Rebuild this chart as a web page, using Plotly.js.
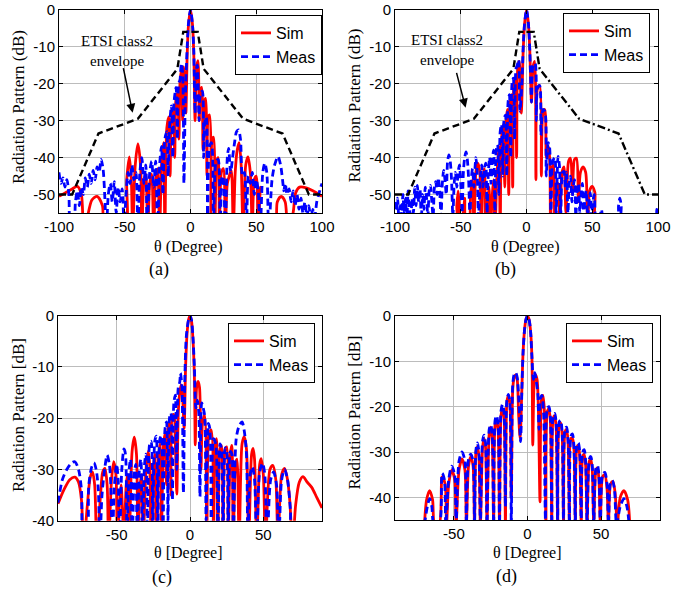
<!DOCTYPE html>
<html>
<head>
<meta charset="utf-8">
<script src="https://cdn.plot.ly/plotly-3.0.1.min.js"></script>
<style>html,body{margin:0;padding:0;background:#fff;}#chart{width:689px;height:589px;}</style>
</head>
<body>
<div id="chart"></div>
<script>
// ---------------- data (theta in degrees, pattern in dB) ----------------
const envTheta = [-100, -90, -70, -40, -10, -5.5, 0, 5.5, 10, 40, 70, 90, 100];
const envDB    = [-50, -50, -33.5, -29.5, -16, -6, -6, -6, -16, -29.5, -33.5, -50, -50];

const simA = [[-100,-50.5],[-95,-49.5],[-90,-48.5],[-86,-47.8],[-83,-50],[-81,-60],[-75,-51.5],[-71,-50.5],[-67,-53],[-65,-60],[-50,-60],[-48.5,-46],[-46.5,-39.8],[-45,-46],[-44,-60],[-42,-42],[-40,-36.3],[-38,-42],[-37,-60],[-35.5,-47],[-34,-44.5],[-32.5,-60],[-31,-47],[-29.5,-44.5],[-28,-60],[-26.5,-46],[-25,-43],[-23.5,-60],[-22,-42],[-20.5,-36],[-19.5,-60],[-18,-32],[-16.5,-29],[-15.5,-45],[-14.5,-30],[-13,-27.5],[-12,-40],[-11,-24],[-9.8,-22.5],[-8.8,-35],[-8,-20],[-6.8,-16],[-6,-30],[-5,-15.5],[-4,-22],[-3.5,-28],[-2.5,-12],[-1.5,-4],[0,0],[1.5,-4],[2.5,-12],[3.5,-30],[4.5,-16],[5.7,-13.8],[6.7,-30],[7.5,-22],[8.5,-21],[9.5,-38],[10.5,-25],[11.5,-24],[12.5,-45],[13.5,-29],[14.5,-28.5],[15.5,-60],[16.5,-35],[17.5,-34.5],[18.5,-60],[20,-41],[21,-40],[22,-60],[23.5,-44],[25,-43],[26.5,-60],[28,-47],[29.5,-45],[31,-43.5],[32.5,-60],[34,-44],[35.5,-38],[37,-36],[38.5,-42],[40,-60],[42,-42],[43.7,-39.8],[45.5,-44],[47,-60],[48.5,-46],[50,-45],[51.5,-60],[53,-48],[54,-60],[64,-60],[66,-52],[69,-50.5],[72,-52],[74,-60],[78,-55],[80,-49.5],[83,-48],[88,-48.2],[93,-49],[100,-50.5]];

const measA = [[-100,-44],[-98.5,-47],[-97,-45.5],[-95.5,-48],[-94,-46],[-92.5,-50],[-91,-60],[-89,-60],[-87.5,-52],[-86,-49],[-84.5,-53],[-83,-48],[-81.5,-50],[-80,-45.5],[-78.5,-48],[-77,-44.5],[-75.5,-47],[-74,-43.5],[-72.5,-46],[-71,-42.5],[-69.5,-44],[-68,-40.5],[-66.5,-43],[-65,-52],[-64,-60],[-62.5,-50],[-61,-47],[-59.5,-52],[-58,-46.5],[-56.5,-55],[-55,-48],[-53.5,-52],[-52,-48.5],[-50.5,-58],[-49,-50],[-47.5,-44],[-46,-47],[-44.5,-42],[-43,-46],[-41.5,-44],[-40,-60],[-38.5,-44],[-37,-40],[-35.5,-47],[-34,-42],[-33,-60],[-31,-44],[-29.5,-41],[-28,-48],[-26.5,-41],[-25,-60],[-23.5,-42],[-22,-37],[-21,-50],[-19.5,-35],[-18,-33],[-17,-45],[-16,-32],[-14.5,-26],[-13.5,-40],[-12.5,-25],[-11,-21],[-10,-35],[-9,-20],[-8,-19],[-7,-14.5],[-6,-17],[-5,-47],[-4,-25],[-2.5,-10],[-1.5,-3.5],[0,0],[1.5,-4],[2.5,-11],[3.5,-28],[4.5,-16],[5.2,-15],[6.5,-30],[7.5,-23],[9,-22],[10,-40],[11,-30],[12,-29],[13,-60],[14.5,-37],[16,-36],[17.5,-60],[19.5,-41],[21,-40.5],[22.5,-60],[24,-45],[25,-46],[26.5,-60],[28,-40],[29,-37.5],[30.5,-44],[32,-40],[33.5,-36],[35,-33],[36.5,-32.5],[38,-35],[39.5,-45],[41,-44],[42.5,-60],[44,-45],[45.5,-47],[47,-44],[48.5,-50],[50,-46],[51.5,-49],[53,-60],[55,-44],[56.5,-41.5],[58,-44],[59.5,-60],[62,-46],[64,-42],[66.5,-39.7],[68.5,-42],[70,-46],[71,-49],[72,-47],[73.5,-50],[75,-48.5],[76.5,-52],[78,-49],[79.5,-53],[81,-50],[82.5,-54],[84,-51],[85.5,-55],[87,-52],[88.5,-56],[90,-53],[91.5,-57],[93,-54],[94.5,-56],[96,-52],[97.5,-50],[99,-48],[100,-47]];

const simB = [[-100,-60],[-54,-60],[-53,-53],[-52,-49],[-51,-53],[-50,-60],[-48,-55],[-47,-51],[-46,-60],[-44,-60],[-42.5,-50],[-41,-46],[-40,-60],[-38.5,-44],[-37,-41.5],[-35.5,-44],[-34.5,-60],[-33,-45],[-32,-43],[-31,-60],[-29.5,-52],[-28.5,-48],[-27.5,-60],[-26,-50],[-25,-46],[-24,-60],[-22.5,-45],[-21,-37],[-20,-60],[-19,-35],[-17.5,-31],[-16.5,-48],[-15.5,-30],[-14.5,-27],[-13.5,-50],[-12.5,-25],[-11.5,-23],[-10.5,-48],[-9.5,-20],[-8.5,-18.5],[-7.5,-40],[-6.5,-15],[-5.5,-14],[-4,-28],[-2.5,-11],[-1.5,-4],[0,0],[1.5,-4],[2.5,-11],[3.8,-25],[5,-15.5],[6.2,-14],[7.2,-46],[8.5,-21],[10,-20.5],[11.3,-45],[12.5,-28],[14,-27],[15,-40],[16,-37],[17,-37.5],[18.3,-60],[19.5,-43],[20.5,-42],[21.5,-60],[23,-48],[24,-47],[25.5,-60],[27,-44],[28.5,-42.5],[30,-55],[32,-41],[33.5,-40.2],[35,-50],[36.5,-40.5],[38,-40.2],[39.5,-52],[41,-44],[43,-42.5],[45,-44],[46.5,-60],[48,-49],[50,-47.8],[52,-49.5],[54,-60],[100,-60]];

const measB = [[-100,-52],[-99,-56],[-98,-51],[-97,-57],[-96,-53],[-95,-56],[-94,-50],[-93,-55],[-92,-51],[-91,-57],[-90,-49],[-89,-54],[-88,-57],[-87,-51],[-86,-55],[-85,-48],[-84,-53],[-83,-47.5],[-82,-52],[-81,-48.5],[-80,-57],[-79,-50],[-78,-54],[-77,-48],[-76,-51],[-75,-56],[-74,-49],[-73,-47.5],[-72,-52],[-71,-56],[-70,-48],[-69,-46.5],[-68,-50],[-67,-45.5],[-66,-49],[-65,-56],[-64,-47],[-63,-43.5],[-62,-46],[-61,-50],[-60,-41],[-59,-39.3],[-58,-41],[-57,-46],[-56,-56],[-55,-47],[-54,-44],[-53,-48],[-52,-44],[-51,-42],[-50,-47],[-49,-55],[-48,-44],[-47,-40],[-46,-38.5],[-45,-40.5],[-44,-46],[-43,-56],[-42,-46],[-41,-43],[-40,-48],[-39,-42],[-38.5,-40],[-37.5,-44],[-36.5,-56],[-35,-45],[-34,-42],[-33,-48],[-32,-43],[-31,-41.5],[-30,-55],[-29,-44],[-28,-40],[-27,-47],[-26,-41],[-25,-38],[-24,-56],[-23,-38],[-22,-36.5],[-21,-50],[-20,-33],[-19,-31],[-18,-45],[-17,-29.5],[-16,-28.5],[-15,-45],[-14,-25],[-13,-23],[-12,-40],[-11,-20],[-10,-18.5],[-9,-35],[-8,-16],[-7,-15],[-6,-13.5],[-5,-27.5],[-3.5,-20],[-2.5,-10],[-1.5,-4],[0,0],[1.5,-4],[2.5,-11],[3.8,-25],[5,-15],[6.5,-14.5],[7.5,-30],[8.5,-21],[10,-20.5],[11,-34],[12.5,-27],[14,-27.5],[15,-45],[16.5,-36],[17.5,-37],[18.5,-56],[20,-41],[21.5,-40],[22.5,-56],[24,-39.7],[25,-42],[26,-56],[27.5,-44],[28.5,-43.8],[29.5,-48],[30.5,-44],[31.5,-55],[32.5,-47],[33.5,-45],[34.5,-52],[35.5,-48],[36.5,-46],[37.5,-56],[38.5,-49],[39.5,-47],[40.5,-55],[41.5,-50],[42.5,-47],[43.5,-56],[44.5,-51],[45.5,-49],[46.5,-56],[47.5,-52],[48.5,-49.5],[49.5,-56],[50.5,-52],[51.5,-50],[52.5,-57],[54,-60],[56,-56],[57,-54],[58,-57],[59,-60],[69,-60],[70,-53],[71,-51],[72,-53],[73,-60],[98,-60],[99,-54],[100,-55]];

const simC = [[-90,-36.7],[-86,-34],[-82,-32],[-78.5,-31.5],[-76,-32.5],[-74,-36],[-72.5,-45],[-70,-37],[-68,-31.5],[-66.5,-30.5],[-65,-33],[-63.5,-45],[-61,-35],[-59.5,-30.5],[-58,-29.8],[-56.5,-33],[-55.5,-45],[-53.5,-32],[-52,-28.5],[-50.5,-31],[-49.5,-45],[-48,-36],[-47,-33],[-46,-38],[-45,-45],[-43.5,-33],[-42.5,-31],[-41.5,-45],[-39.5,-26.5],[-38,-23.7],[-36.5,-27],[-35.5,-45],[-34,-33],[-33,-31],[-32,-45],[-30,-30],[-28.5,-26.5],[-27.5,-29],[-26.5,-45],[-25,-30],[-24,-27],[-23,-45],[-21.5,-28],[-20.5,-25],[-19.5,-42],[-18,-25],[-17,-23],[-16,-33],[-15,-22],[-14,-21],[-13,-35],[-12,-19.5],[-11,-19.3],[-10,-25],[-9,-34.8],[-8,-19],[-7,-15],[-6,-13.5],[-5,-16],[-4,-22],[-3,-10],[-2,-3.5],[-1,-0.8],[0,0],[1,-1],[2,-4.5],[3,-12],[3.6,-25.2],[4.5,-14],[5.5,-12.8],[6.5,-14],[7.5,-30],[8.5,-21],[10,-19.4],[11.5,-45],[13,-23],[14.5,-22.3],[16,-45],[17,-26],[18,-24],[19,-45],[20.5,-26],[21.5,-25.3],[22.5,-45],[24,-26],[25,-25.6],[26,-45],[27.5,-27],[28.5,-25.3],[29.5,-45],[31,-29],[32,-28],[33.5,-45],[35.5,-25],[37,-23.6],[38.5,-26],[40,-45],[42,-27],[43,-25.9],[44,-28],[45.5,-45],[47.5,-29],[48.5,-27.9],[50,-31],[51.5,-45],[54.5,-30],[56.5,-29.2],[58.5,-32],[60,-45],[62.5,-31],[64.5,-29.8],[66.5,-32],[68,-36],[70,-45],[72,-37],[74.5,-32.5],[77,-31.4],[80,-32.5],[83,-33.5],[86.5,-35.5],[90,-37.5]];

const measC = [[-90,-36.5],[-87,-32],[-84,-30],[-81,-28.8],[-78.5,-28.5],[-76,-30],[-74,-34],[-72.5,-45],[-70.5,-45],[-69,-33],[-67,-29.5],[-65.5,-28.7],[-64,-30],[-62.5,-34],[-61.5,-45],[-60,-35],[-58,-29.5],[-56.5,-27.2],[-55,-29],[-54,-33],[-53,-45],[-51.5,-33],[-50,-29],[-49,-32],[-48,-45],[-46.5,-30],[-45,-26],[-44,-27],[-43,-45],[-41.5,-30],[-40.5,-28],[-39.5,-45],[-38,-31],[-37,-29],[-36,-45],[-34.5,-30],[-33.5,-28],[-32.5,-45],[-31,-29],[-30,-27],[-29,-45],[-27.5,-25],[-26.5,-24.5],[-25.5,-45],[-24,-24.5],[-23,-23.5],[-22,-45],[-20.5,-24],[-19.5,-23.4],[-18.5,-45],[-17,-22],[-16,-20.7],[-15,-40],[-14,-20],[-13,-19],[-12,-36],[-11,-17],[-10,-15.5],[-9,-30],[-8,-14],[-7,-13],[-6.5,-11.2],[-5.5,-14],[-4.5,-34.6],[-3.5,-12],[-2.5,-4],[-1,-0.8],[0,0],[1,-0.8],[2,-4],[3,-10],[4,-18],[5,-16.5],[6,-19],[6.8,-35.3],[8,-17],[9,-18],[10,-19.5],[11,-40],[12.5,-21],[13.5,-22],[14.5,-45],[16,-24],[17.5,-25],[19,-45],[20.5,-25],[21.5,-26],[22.5,-45],[24,-25.8],[25,-26.5],[26,-45],[27.5,-26.5],[28.5,-27],[29.5,-45],[31.5,-24],[33.5,-21.5],[35.5,-20.7],[37,-22.5],[38.5,-27],[39.5,-45],[41,-31],[42.5,-29.5],[44,-32],[45.5,-45],[47.5,-30.5],[49.5,-28.8],[51,-31],[52.5,-45],[55,-32],[57,-30.5],[59,-33],[60.5,-45],[62.5,-32],[64.5,-30],[66.5,-32],[68.5,-38],[70,-45],[90,-45]];

const simD = [[-70,-46],[-68.5,-40.5],[-66.5,-38.5],[-64.5,-40.5],[-63,-46],[-60,-46],[-58,-35.5],[-56,-37],[-55,-46],[-53.5,-37],[-51.5,-34],[-49.5,-36],[-48.5,-46],[-46.5,-34],[-44.5,-31.5],[-42.5,-34],[-41.5,-46],[-40,-33],[-38.5,-31],[-37,-33],[-36,-46],[-35,-30],[-34,-28.8],[-33,-31],[-32,-46],[-30.5,-29],[-29.5,-27],[-28.5,-29],[-27.5,-46],[-26,-26],[-25,-24.5],[-24,-27],[-23,-46],[-22,-24],[-21,-23],[-20,-25],[-19,-46],[-18,-22],[-17,-20.5],[-16,-22],[-15,-46],[-14,-19],[-13,-17.5],[-12,-19],[-11,-40],[-10,-16],[-9,-13.5],[-8,-13],[-7,-14],[-6,-22],[-5,-27],[-4,-18],[-3,-8],[-2,-3],[-1,-0.7],[0,0],[1,-0.7],[2,-3],[3,-9],[3.6,-28.5],[4.5,-15],[5.5,-13],[6.5,-14],[7.5,-22],[8.5,-41],[9.5,-18.5],[10.5,-17.5],[11.5,-21],[12.5,-46],[13.5,-21],[14.5,-20.5],[15.5,-23],[16.5,-46],[17.5,-22.5],[18.5,-22],[19.5,-25],[20.5,-46],[21.5,-24],[22.5,-23.5],[23.5,-26],[24.5,-46],[25.5,-25.5],[26.5,-25],[27.5,-27.5],[28.5,-46],[29.5,-27],[30.5,-27],[31.5,-29],[32.5,-46],[33.5,-29],[34.5,-28.5],[35.5,-31],[36.5,-46],[37.5,-31],[38.5,-30.5],[39.5,-33],[40.5,-46],[42,-32],[43,-31.5],[44,-34],[45,-46],[46.5,-34],[47.5,-33.5],[48.5,-36],[49.5,-46],[51,-35.5],[52.5,-35],[54,-38],[55,-46],[56.5,-37],[58,-36.5],[59.5,-39],[61,-46],[63,-40],[65.5,-38.5],[68,-40.5],[69.5,-46]];

const measD = [[-70,-46],[-68,-42],[-66.5,-40.3],[-65,-42],[-63.5,-46],[-60,-46],[-58,-34.7],[-56.5,-36],[-55.5,-46],[-53.5,-36],[-51.5,-33.1],[-49.5,-35],[-48.5,-46],[-46.5,-32],[-44.5,-30],[-42.5,-32],[-41.5,-46],[-40,-31.5],[-38.5,-30.5],[-37,-32],[-36,-46],[-35,-29.5],[-34,-28],[-33,-30],[-32,-46],[-30.5,-27.5],[-29.5,-26.3],[-28.5,-28],[-27.5,-46],[-26,-25],[-25,-24],[-24,-26],[-23,-46],[-22,-23],[-21,-22],[-20,-24],[-19,-46],[-18,-21],[-17,-19.5],[-16,-21],[-15,-42],[-14,-18.5],[-13,-17.3],[-12,-19],[-11,-46],[-10,-15],[-9,-12.8],[-8,-12.5],[-7,-13.5],[-6,-18],[-4.7,-27.7],[-3.8,-16],[-3,-8],[-2,-3],[-1,-0.7],[0,0],[1,-0.7],[2,-3],[3,-9],[4,-14],[5,-12.5],[6,-14.5],[7,-17],[7.8,-25],[8.8,-18.2],[9.8,-17.5],[11,-22],[12.2,-45],[13.4,-20.4],[14.5,-20],[15.5,-22],[16.5,-46],[17.5,-21.9],[18.5,-21.5],[19.5,-24],[20.5,-46],[21.5,-23.4],[22.5,-23],[23.5,-25.5],[24.5,-46],[25.5,-24.9],[26.5,-24.5],[27.5,-27],[28.5,-46],[29.5,-26.5],[30.5,-26],[31.5,-28.5],[32.5,-46],[33.5,-28.5],[34.5,-28],[35.5,-30],[36.5,-46],[37.5,-30],[38.5,-29.5],[39.5,-32],[40.5,-46],[42,-31.5],[43,-31],[44,-33],[45,-46],[46.5,-33.5],[47.5,-33],[48.5,-35],[49.5,-46],[51,-35],[52.5,-34.5],[54,-37],[55,-46],[56.5,-36.5],[57.6,-36.3],[59,-38],[60.5,-46],[63,-42],[65.5,-40.3],[67.5,-42],[69,-46]];

const xTicksWide = [-100, -50, 0, 50, 100];
const xTicksWideText = ['-100', '-50', '0', '50', '100'];
const xTicksNarrow = [-50, 0, 50];
const xTicksNarrowText = ['-50', '0', '50'];
const yTicksAB = [0, -10, -20, -30, -40, -50];
const yTicksAB_text = ['0', '-10', '-20', '-30', '-40', '-50'];
const yTicksCD = [0, -10, -20, -30, -40];
const yTicksCD_text = ['0', '-10', '-20', '-30', '-40'];
const seriesNames = ['Sim', 'Meas'];

// ---------------- drawing ----------------
const SANS = 'Liberation Sans, Arial, sans-serif';
const SERIF = 'Liberation Serif, Times New Roman, serif';
const W = 689, H = 589;

function xs(p) { return p.map(function (d) { return d[0]; }); }
function ys(p) { return p.map(function (d) { return d[1]; }); }

function simTrace(p, n, leg) {
  return {x: xs(p), y: ys(p), xaxis: 'x' + n, yaxis: 'y' + n, type: 'scatter', mode: 'lines',
    name: seriesNames[0], legend: leg, line: {color: '#ff0000', width: 2.8, shape: 'spline', smoothing: 0.8}};
}
function measTrace(p, n, leg) {
  return {x: xs(p), y: ys(p), xaxis: 'x' + n, yaxis: 'y' + n, type: 'scatter', mode: 'lines',
    name: seriesNames[1], legend: leg, line: {color: '#0000ff', width: 2.8, dash: '7px,4px', shape: 'spline', smoothing: 0.8}};
}
function envTrace(th, db, n, dash) {
  return {x: th, y: db, xaxis: 'x' + n, yaxis: 'y' + n, type: 'scatter', mode: 'lines',
    showlegend: false, hoverinfo: 'skip', line: {color: '#000000', width: 2.4, dash: dash}};
}

const mid = envTheta.indexOf(0);
const traces = [
  simTrace(simA, '', 'legend'), measTrace(measA, '', 'legend'),
  envTrace(envTheta, envDB, '', '7px,4px'),
  simTrace(simB, '2', 'legend2'), measTrace(measB, '2', 'legend2'),
  envTrace(envTheta.slice(0, mid + 1), envDB.slice(0, mid + 1), '2', '7px,4px'),
  envTrace(envTheta.slice(mid), envDB.slice(mid), '2', '8px,3px,2px,3px'),
  simTrace(simC, '3', 'legend3'), measTrace(measC, '3', 'legend3'),
  simTrace(simD, '4', 'legend4'), measTrace(measD, '4', 'legend4')
];

function axisBase() {
  return {showgrid: true, gridcolor: '#bcbcbc', gridwidth: 1, zeroline: false,
    showline: true, linecolor: '#000', linewidth: 1, mirror: 'ticks',
    ticks: 'inside', ticklen: 4, tickwidth: 1, tickcolor: '#000',
    tickfont: {family: SANS, size: 15, color: '#000'}, tickmode: 'array', fixedrange: true};
}
function xAxis(px0, px1, range, tv, tt, anchor) {
  return Object.assign(axisBase(), {domain: [px0 / W, px1 / W], range: range, tickvals: tv, ticktext: tt, anchor: anchor});
}
function yAxis(py0, py1, range, tv, tt, anchor) {
  return Object.assign(axisBase(), {domain: [1 - py1 / H, 1 - py0 / H], range: range, tickvals: tv, ticktext: tt, anchor: anchor});
}
function legendAt(pxRight, pyTop) {
  return {x: pxRight / W, y: 1 - pyTop / H, xanchor: 'right', yanchor: 'top', bgcolor: '#fff',
    bordercolor: '#000', borderwidth: 1, font: {family: SANS, size: 16, color: '#000'},
    tracegroupgap: 0, itemwidth: 30};
}
function paperText(txt, px, py, size, family, angle) {
  return {text: txt, x: px / W, y: 1 - py / H, xref: 'paper', yref: 'paper', xanchor: 'center', yanchor: 'middle',
    showarrow: false, textangle: angle || 0, font: {family: family, size: size, color: '#000'}};
}
function dataText(txt, x, y, n) {
  return {text: txt, x: x, y: y, xref: 'x' + n, yref: 'y' + n, showarrow: false, xanchor: 'center', yanchor: 'middle',
    font: {family: SERIF, size: 15, color: '#000'}};
}
function arrow(x0, y0, x1, y1, n) {
  return {text: '', x: x1, y: y1, ax: x0, ay: y0, xref: 'x' + n, yref: 'y' + n, axref: 'x' + n, ayref: 'y' + n,
    showarrow: true, arrowhead: 2, arrowsize: 1.2, arrowwidth: 1.5, arrowcolor: '#000', standoff: 0};
}

const layout = {
  width: W, height: H, margin: {l: 0, r: 0, t: 0, b: 0},
  paper_bgcolor: '#fff', plot_bgcolor: '#fff', showlegend: true,
  font: {family: SANS, color: '#000'},
  xaxis:  xAxis(59, 322, [-100, 100], xTicksWide, xTicksWideText, 'y'),
  yaxis:  yAxis(9.7, 213, [-55, 0], yTicksAB, yTicksAB_text, 'x'),
  xaxis2: xAxis(395, 658, [-100, 100], xTicksWide, xTicksWideText, 'y2'),
  yaxis2: yAxis(9.7, 213, [-55, 0], yTicksAB, yTicksAB_text, 'x2'),
  xaxis3: xAxis(58, 322, [-90, 90], xTicksNarrow, xTicksNarrowText, 'y3'),
  yaxis3: yAxis(315.7, 520.7, [-40, 0], yTicksCD, yTicksCD_text, 'x3'),
  xaxis4: xAxis(395, 660, [-90, 90], xTicksNarrow, xTicksNarrowText, 'y4'),
  yaxis4: yAxis(316, 520, [-45, 0], yTicksCD, yTicksCD_text, 'x4'),
  legend:  legendAt(322, 15),
  legend2: legendAt(650, 13),
  legend3: legendAt(315, 323),
  legend4: legendAt(653, 323),
  annotations: [
    paperText('Radiation Pattern (dB)', 18, 107, 17, SERIF, -90),
    paperText('Radiation Pattern (dB)', 353.5, 106, 17, SERIF, -90),
    paperText('Radiation Pattern [dB]', 18, 415, 17, SERIF, -90),
    paperText('Radiation Pattern [dB]', 353.5, 413, 17, SERIF, -90),
    paperText('θ (Degree)', 189, 247, 16, SERIF),
    paperText('θ (Degree)', 525, 247, 16, SERIF),
    paperText('θ [Degree]', 189, 553, 16, SERIF),
    paperText('θ [Degree]', 527, 553, 16, SERIF),
    paperText('(a)', 159, 269, 18, SERIF),
    paperText('(b)', 505, 269, 18, SERIF),
    paperText('(c)', 162, 577, 18, SERIF),
    paperText('(d)', 507, 576, 18, SERIF),
    dataText('ETSI class2<br>envelope', -55.9, -11.2, ''),
    arrow(-51.3, -15.4, -44, -27.9, ''),
    dataText('ETSI class2<br>envelope', -60.1, -11.0, '2'),
    arrow(-53.5, -16.7, -46.3, -26.5, '2')
  ]
};

Plotly.newPlot('chart', traces, layout, {displayModeBar: false, staticPlot: true});
</script>
</body>
</html>
